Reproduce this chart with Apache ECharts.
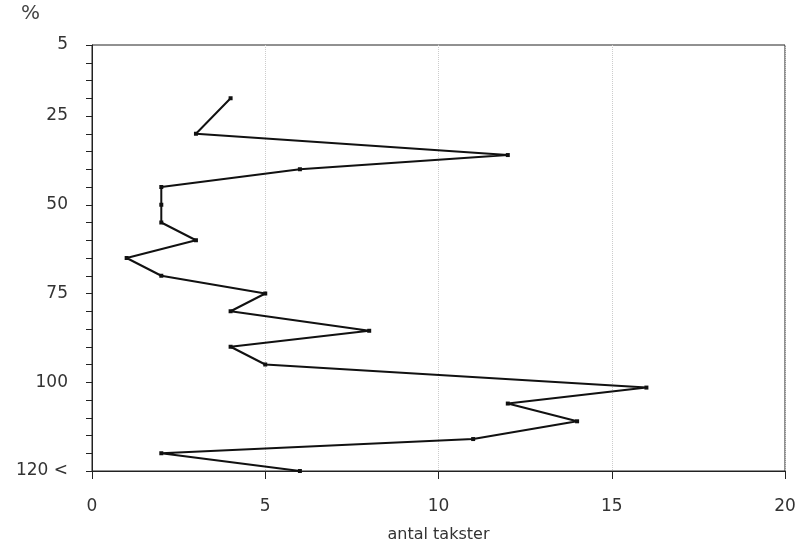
<!DOCTYPE html>
<html>
<head>
<meta charset="utf-8">
<script src="https://cdn.jsdelivr.net/npm/echarts@6/dist/echarts.min.js"></script>
<style>html,body{margin:0;padding:0;background:#fff;}#c{width:796px;height:545px;}</style>
</head>
<body>
<div id="c"></div>
<script>
// percentage class (y) and number of taxa (x)
const percent = [20, 30, 36, 40, 45, 50, 55, 60, 65, 70, 75, 80, 85.5, 90, 95, 101.5, 106, 111, 116, 120, 125];
const antalTakster = [4, 3, 12, 6, 2, 2, 2, 3, 1, 2, 5, 4, 8, 4, 5, 16, 12, 14, 11, 2, 6];
const yTickLabels = {5: '5', 25: '25', 50: '50', 75: '75', 100: '100', 125: '120 <'};
const xTicks = [0, 5, 10, 15, 20];

const chart = echarts.init(document.getElementById('c'));
const font = 'DejaVu Sans';
chart.setOption({
  animation: false,
  backgroundColor: '#fff',
  grid: {left: 92, right: 11, top: 45, bottom: 74, containLabel: false, outerBoundsMode: 'none',
    show: true, borderColor: '#222', borderWidth: 1},
  graphic: [{type: 'text', left: 21, top: 4, style: {text: '%', font: '20px "DejaVu Sans"', fill: '#444'}}],
  xAxis: {
    type: 'value', min: xTicks[0], max: xTicks[xTicks.length - 1], interval: 5,
    name: 'antal takster', nameLocation: 'middle', nameGap: 56,
    nameTextStyle: {fontFamily: font, fontSize: 16, color: '#333'},
    axisLine: {show: true, lineStyle: {color: '#222', width: 1}},
    axisTick: {show: true, length: 8, lineStyle: {color: '#222'}},
    axisLabel: {fontFamily: font, fontSize: 17, color: '#333', margin: 27},
    splitLine: {show: true, lineStyle: {color: '#ccc', type: 'dotted', width: 1}}
  },
  yAxis: {
    type: 'value', inverse: true, min: 5, max: 125, interval: 5,
    axisLine: {show: true, lineStyle: {color: '#222', width: 1}},
    axisTick: {show: true, length: 6, lineStyle: {color: '#222'}},
    axisLabel: {fontFamily: font, fontSize: 17, color: '#333', margin: 24,
      formatter: v => yTickLabels[v] !== undefined ? yTickLabels[v] : ''},
    splitLine: {show: false}
  },
  series: [{
    type: 'line',
    data: percent.map((p, i) => [antalTakster[i], p]),
    symbol: 'rect', symbolSize: 4,
    lineStyle: {color: '#111', width: 2},
    itemStyle: {color: '#111'}
  }]
});
</script>
</body>
</html>
